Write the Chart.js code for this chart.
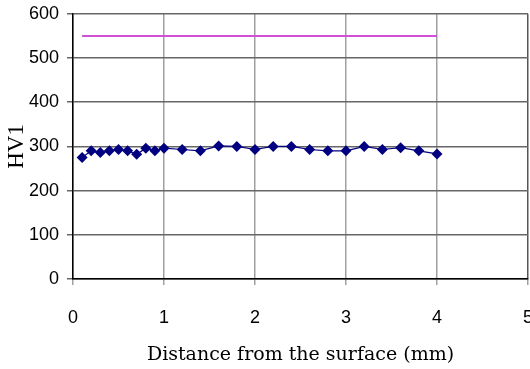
<!DOCTYPE html>
<html>
<head>
<meta charset="utf-8">
<script src="https://cdn.jsdelivr.net/npm/chart.js@4.4.1/dist/chart.umd.min.js"></script>
<style>
  html, body { margin: 0; padding: 0; background: #fff; overflow: hidden; }
  #wrap { position: absolute; left: 0; top: -5px; width: 550px; height: 374px; }
</style>
</head>
<body>
<div id="wrap"><canvas id="hardness_chart" width="550" height="374"></canvas></div>
<script>
// 測定位置 (mm)
const distances = [0.1, 0.2, 0.3, 0.4, 0.5, 0.6, 0.7, 0.8, 0.9, 1.0,
                   1.2, 1.4, 1.6, 1.8, 2.0, 2.2, 2.4, 2.6, 2.8, 3.0,
                   3.2, 3.4, 3.6, 3.8, 4.0];
// 硬さ HV1
const hardness = [275, 290, 286, 290, 293, 290, 282, 296, 290, 296,
                  293, 290, 301, 300, 293, 300, 300, 293, 290, 290,
                  300, 293, 297, 290, 283];
// 基準線
const limitX = [0.1, 4.0];
const limitY = [550, 550];
// 軸の目盛り
const xTicks = [0, 1, 2, 3, 4, 5];
const yTicks = [0, 100, 200, 300, 400, 500, 600];

function toPoints(xs, ys) {
    return xs.map(function(x, i) { return { x: x, y: ys[i] }; });
}

const tickFont = { family: "'Liberation Sans', Arial, sans-serif", size: 18 };

const ctx = document.getElementById("hardness_chart").getContext("2d");
new Chart(ctx, {
    type: 'line',
    data: {
        datasets: [
            {
                label: 'limit',
                data: toPoints(limitX, limitY),
                borderColor: '#d24fd8',
                borderWidth: 2,
                pointRadius: 0,
                tension: 0
            },
            {
                label: 'HV1',
                data: toPoints(distances, hardness),
                borderColor: '#000080',
                borderWidth: 1.2,
                backgroundColor: '#000080',
                pointStyle: 'rectRot',
                pointRadius: 5.5,
                pointBorderWidth: 0,
                pointBackgroundColor: '#000080',
                tension: 0
            }
        ]
    },
    options: {
        responsive: false,
        animation: false,
        layout: { padding: { top: 2, right: 22, left: 0, bottom: 0 } },
        scales: {
            x: {
                type: 'linear',
                min: xTicks[0],
                max: xTicks[xTicks.length - 1],
                afterBuildTicks: function(axis) {
                    axis.ticks = xTicks.map(function(v) { return { value: v }; });
                },
                // 軸の高さを固定し、右端のラベル用の余白を無くす
                afterFit: function(axis) {
                    axis.height = 90;
                    axis.paddingRight = 0;
                },
                ticks: { color: '#000', font: tickFont, padding: 22, maxRotation: 0 },
                grid: {
                    // 右端の線だけ濃くする
                    color: function(c) { return c.index === xTicks.length - 1 ? '#555' : '#a0a0a0'; },
                    lineWidth: 1.5,
                    tickLength: 6,
                    tickColor: '#a0a0a0'
                },
                border: { color: '#000', width: 1.5 },
                title: {
                    display: true,
                    text: 'Distance from the surface (mm)',
                    color: '#000',
                    font: { family: "'DejaVu Serif', serif", size: 19 },
                    padding: { top: 0, bottom: 3 }
                }
            },
            y: {
                min: yTicks[0],
                max: yTicks[yTicks.length - 1],
                afterBuildTicks: function(axis) {
                    axis.ticks = yTicks.map(function(v) { return { value: v }; });
                },
                // 軸の幅を固定
                afterFit: function(axis) { axis.width = 73; },
                ticks: { color: '#000', font: tickFont, padding: 8 },
                grid: { color: '#666', lineWidth: 1.5, tickLength: 6, tickColor: '#666' },
                border: { color: '#000', width: 1.5 },
                title: {
                    display: true,
                    text: 'HV1',
                    color: '#000',
                    font: { family: "'Liberation Serif', 'Times New Roman', serif", size: 23 },
                    padding: { top: 3, bottom: 0 }
                }
            }
        },
        plugins: {
            legend: { display: false },
            tooltip: { enabled: false }
        }
    }
});
</script>
</body>
</html>
